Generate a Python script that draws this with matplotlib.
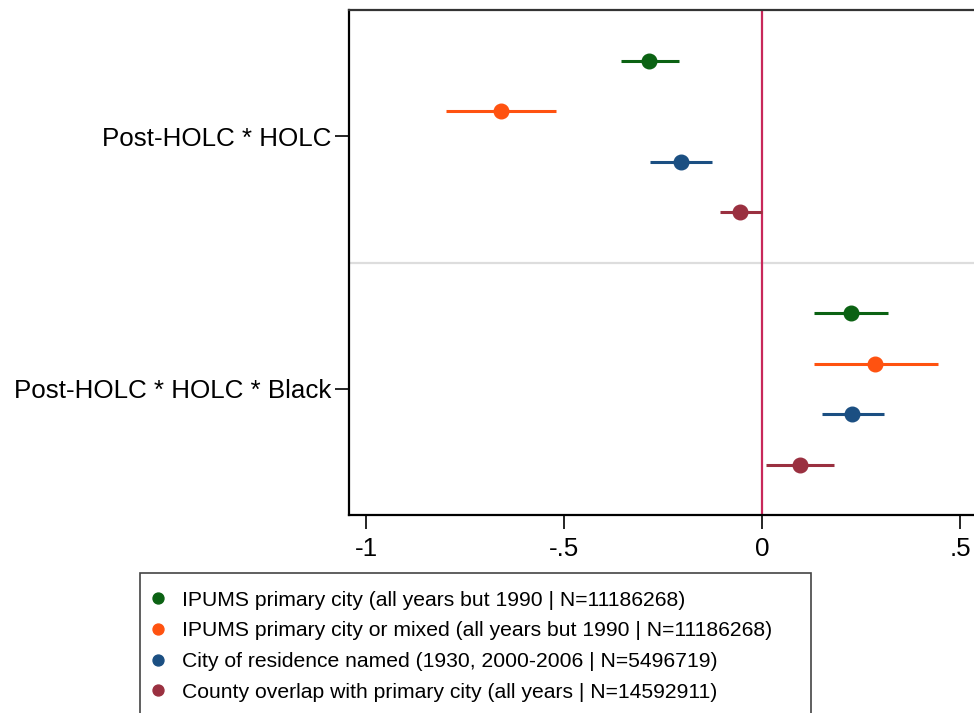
import matplotlib
matplotlib.use("Agg")
import matplotlib.pyplot as plt
from matplotlib.patches import Rectangle
import numpy as np

plt.rcParams['font.family'] = ['Liberation Sans', 'DejaVu Sans']

categories = ["Post-HOLC * HOLC", "Post-HOLC * HOLC * Black"]
series_names = [
    "IPUMS primary city (all years but 1990 | N=11186268)",
    "IPUMS primary city or mixed (all years but 1990 | N=11186268)",
    "City of residence named (1930, 2000-2006 | N=5496719)",
    "County overlap with primary city (all years | N=14592911)",
]
series_colors = ["#0b6213", "#ff5210", "#1b4f82", "#9a3040"]

# point estimates and CI bounds per series: [Post-HOLC*HOLC, Post-HOLC*HOLC*Black]
est_primary = [-0.285, 0.225]
lo_primary = [-0.356, 0.131]
hi_primary = [-0.210, 0.318]

est_mixed = [-0.659, 0.285]
lo_mixed = [-0.798, 0.131]
hi_mixed = [-0.520, 0.445]

est_named = [-0.205, 0.227]
lo_named = [-0.283, 0.152]
hi_named = [-0.126, 0.308]

est_county = [-0.056, 0.096]
lo_county = [-0.106, 0.010]
hi_county = [0.000, 0.182]

xticks = [-1, -0.5, 0, 0.5]
xticklabels = ["-1", "-.5", "0", ".5"]

estimates = [est_primary, est_mixed, est_named, est_county]
lowers = [lo_primary, lo_mixed, lo_named, lo_county]
uppers = [hi_primary, hi_mixed, hi_named, hi_county]
offsets = [-0.3, -0.1, 0.1, 0.3]

W, H = 974, 713
fig = plt.figure(figsize=(W / 100, H / 100), dpi=100)
ax = fig.add_axes([349 / W, 1 - 515 / H, (980 - 349) / W, (515 - 10) / H])

base = np.arange(1, len(categories) + 1)
ax.axvline(0, color="#c8285a", lw=1.6, zorder=1)
ax.axhline(1.5, color="#dddddd", lw=1.6, zorder=0)

for est, lo, hi, off, col, name in zip(estimates, lowers, uppers, offsets, series_colors, series_names):
    est = np.array(est); lo = np.array(lo); hi = np.array(hi)
    y = base + off
    ax.hlines(y, lo, hi, color=col, lw=2.2, zorder=2)
    ax.plot(est, y, 'o', color=col, ms=10.5, zorder=3, label=name, linestyle='none')

ax.set_xlim(-1.043, 0.55)
ax.set_ylim(2.5, 0.5)
ax.set_yticks(base)
ax.set_yticklabels(categories, fontsize=18.7)
ax.set_xticks(xticks)
ax.set_xticklabels(xticklabels, fontsize=18.7)
ax.tick_params(axis='y', length=10, width=1.2, pad=3)
ax.tick_params(axis='x', length=10, width=1.2, pad=6)
for s in ax.spines.values():
    s.set_linewidth(1.6)
    s.set_color('black')
ax.spines['top'].set_color('#333333')

# legend frame (extends past the bottom edge, as in the reference)
fig.patches.append(Rectangle((140 / W, -0.05), (811 - 140) / W, (1 - 573 / H) + 0.05,
                             transform=fig.transFigure, fill=False,
                             edgecolor='#444444', lw=1.2, zorder=5))

handles, labels = ax.get_legend_handles_labels()
leg = fig.legend(handles, labels, loc='upper left', bbox_to_anchor=(140 / W, 1 - 578 / H),
                 fontsize=15.2, frameon=False,
                 borderpad=0.6, labelspacing=0.55, handlelength=0.5, handletextpad=0.9,
                 borderaxespad=0, markerscale=0.75)

fig.savefig("out.png", dpi=100)
